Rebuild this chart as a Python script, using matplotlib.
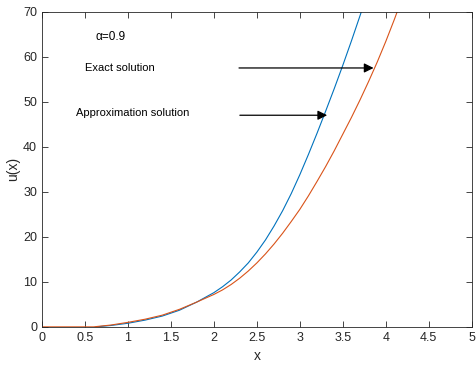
import numpy as np
import matplotlib.pyplot as plt

plt.rcParams['font.family'] = ['Liberation Sans', 'DejaVu Sans']

# exact solution (orange)
x_exact = [0, 0.6, 0.8, 1.0, 1.2, 1.4, 1.6, 1.8, 2.0, 2.1, 2.2, 2.3, 2.4, 2.5,
           2.6, 2.7, 2.8, 2.9, 3.0, 3.1, 3.2, 3.3, 3.4, 3.5, 3.6, 3.7, 3.8,
           3.9, 4.0, 4.1, 4.2]
u_exact = [0, 0, 0.4, 1.0, 1.7, 2.6, 3.9, 5.5, 7.2, 8.2, 9.4, 10.8, 12.4, 14.2,
           16.2, 18.4, 20.8, 23.4, 26.1, 29.1, 32.3, 35.6, 39.1, 42.8, 46.5, 50.4,
           54.5, 58.8, 63.4, 68.3, 73.5]
# approximation solution (blue)
x_approx = [0.63, 0.8, 1.0, 1.2, 1.4, 1.6, 1.8, 2.0, 2.1, 2.2, 2.3, 2.4, 2.5,
            2.6, 2.7, 2.8, 2.9, 3.0, 3.1, 3.2, 3.3, 3.4, 3.5, 3.6, 3.7, 3.8]
u_approx = [0, 0.3, 0.8, 1.5, 2.4, 3.7, 5.5, 7.6, 8.9, 10.4, 12.2, 14.2, 16.6,
            19.3, 22.4, 25.8, 29.6, 33.8, 38.3, 43.0, 47.9, 52.9, 58.1, 63.5, 69.1,
            74.9]

fig = plt.figure(figsize=(4.77, 3.77), dpi=100)
ax = fig.add_axes([0.088, 0.133, 0.901, 0.836])
ax.plot(x_approx, u_approx, color='#0072BD', lw=0.8)
ax.plot(x_exact, u_exact, color='#D95319', lw=0.8)

ax.set_xlim(0, 5)
ax.set_ylim(0, 70)
ax.set_xticks(np.arange(0, 5.01, 0.5))
ax.set_xticklabels(['0', '0.5', '1', '1.5', '2', '2.5', '3', '3.5', '4', '4.5', '5'])
ax.set_yticks(np.arange(0, 71, 10))
ax.tick_params(direction='in', length=4, width=0.6, colors='#262626',
               labelsize=9, top=True, right=True)
for s in ax.spines.values():
    s.set_linewidth(0.6)
    s.set_color('#262626')
ax.set_xlabel('x', fontsize=10, color='#262626')
ax.set_ylabel('u(x)', fontsize=10, color='#262626', labelpad=2)

ax.text(0.62, 64.3, 'α=0.9', fontsize=8.5, va='center')
ax.text(0.5, 57.6, 'Exact solution', fontsize=8, va='center')
ax.text(0.4, 47.6, 'Approximation solution', fontsize=8, va='center')

arrow = dict(arrowstyle='-|>', color='k', lw=0.9, mutation_scale=14)
ax.annotate('', xy=(3.89, 57.5), xytext=(2.26, 57.5), arrowprops=arrow)
ax.annotate('', xy=(3.35, 47.0), xytext=(2.27, 47.0), arrowprops=arrow)

fig.savefig('out.png', dpi=100)
